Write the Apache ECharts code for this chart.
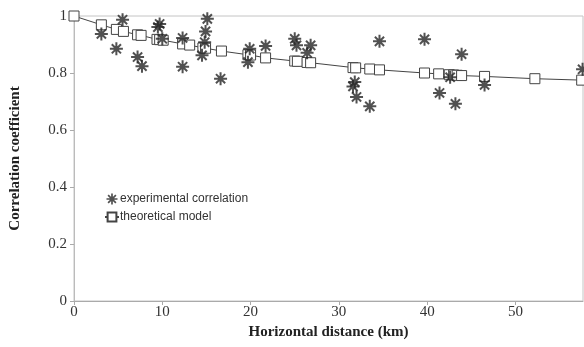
<!DOCTYPE html>
<html>
<head>
<meta charset="utf-8">
<script src="https://cdn.jsdelivr.net/npm/echarts@6/dist/echarts.min.js"></script>
<style>
html,body{margin:0;padding:0;background:#fff;}
#chart{width:584px;height:347px;}
</style>
</head>
<body>
<div id="chart"></div>
<script>
// experimental correlation (distance km, coefficient)
var expDist = [3.1, 4.8, 5.5, 7.2, 7.7, 9.5, 9.7, 10.0, 12.3, 12.3, 14.5, 14.8, 14.9, 15.1, 16.6, 19.7, 19.9, 21.7,
	25.0, 25.2, 26.4, 26.8, 31.6, 31.8, 32.0, 33.5, 34.6, 39.7, 41.4, 42.6, 43.2, 43.9, 46.5, 57.6];
var expCorr = [0.937, 0.885, 0.987, 0.856, 0.824, 0.961, 0.972, 0.920, 0.923, 0.822, 0.862, 0.908, 0.946, 0.990, 0.780, 0.838, 0.885, 0.895,
	0.920, 0.897, 0.871, 0.897, 0.753, 0.768, 0.716, 0.683, 0.911, 0.918, 0.730, 0.785, 0.692, 0.866, 0.758, 0.813];

// theoretical model
var modelDist = [0, 3.1, 4.8, 5.6, 7.2, 7.6, 9.4, 9.7, 10.1, 12.3, 13.1, 14.6, 14.9, 16.7, 19.7, 20.0, 21.7,
	25.0, 25.3, 26.4, 26.8, 31.6, 31.9, 33.5, 34.6, 39.7, 41.3, 42.5, 43.0, 43.4, 43.9, 46.5, 52.2, 57.5];
var modelCorr = [1.0, 0.969, 0.953, 0.946, 0.934, 0.932, 0.918, 0.917, 0.915, 0.902, 0.898, 0.888, 0.887, 0.877, 0.864, 0.863, 0.853,
	0.842, 0.841, 0.837, 0.836, 0.819, 0.818, 0.814, 0.811, 0.800, 0.797, 0.794, 0.793, 0.792, 0.791, 0.788, 0.780, 0.775];

var xTicks = [0, 10, 20, 30, 40, 50];
var yTicks = [0, 0.2, 0.4, 0.6, 0.8, 1];

// asterisk marker: 8 spokes + centre blob
function asteriskPath(){
	var c = 12, L = 11, w = 1.7, parts = [];
	for(var i = 0; i < 4; i++){
		var a = i * Math.PI / 4;
		var ca = Math.cos(a), sa = Math.sin(a);
		var pts = [[-L, -w], [L, -w], [L, w], [-L, w]];
		var s = "";
		for(var k = 0; k < pts.length; k++){
			var px = c + pts[k][0] * ca - pts[k][1] * sa;
			var py = c + pts[k][0] * sa + pts[k][1] * ca;
			s += (k == 0 ? "M" : "L") + px.toFixed(2) + " " + py.toFixed(2) + " ";
		}
		parts.push(s + "Z");
	}
	var r = 5, s2 = "";
	for(var j = 0; j < 8; j++){
		var b = j * Math.PI / 4 + Math.PI / 8;
		s2 += (j == 0 ? "M" : "L") + (c + r * Math.cos(b)).toFixed(2) + " " + (c + r * Math.sin(b)).toFixed(2) + " ";
	}
	parts.push(s2 + "Z");
	return "path://" + parts.join(" ");
}

var expData = [];
for(var i = 0; i < expDist.length; i++){
	expData.push([expDist[i], expCorr[i]]);
}
var modelData = [];
for(var i = 0; i < modelDist.length; i++){
	modelData.push([modelDist[i], modelCorr[i]]);
}

var serif = "'Liberation Serif', 'DejaVu Serif', serif";
var sans = "'Liberation Sans', Arial, sans-serif";

var theChart = echarts.init(document.getElementById("chart"), null, {renderer: "canvas"});
var option = {
	animation: false,
	backgroundColor: "#fff",
	grid: {
		left: 74, right: 1, top: 16, bottom: 46,
		show: true, borderColor: "#c4c4c4", borderWidth: 1
	},
	legend: {
		orient: "vertical",
		left: 99,
		top: 188,
		itemWidth: 14,
		itemHeight: 11,
		itemGap: 6,
		textStyle: {fontFamily: sans, fontSize: 12, color: "#333", padding: [0, 0, 0, -4]},
		data: ["experimental correlation", "theoretical model"]
	},
	xAxis: {
		type: "value",
		min: 0,
		max: 57.65,
		interval: 10,
		name: "Horizontal distance (km)",
		nameLocation: "middle",
		nameGap: 22,
		nameTextStyle: {fontFamily: serif, fontSize: 15, fontWeight: "bold", color: "#222"},
		axisLine: {show: true, lineStyle: {color: "#aaa", width: 1}},
		axisTick: {show: true, length: 4, lineStyle: {color: "#aaa"}},
		splitLine: {show: false},
		axisLabel: {
			showMaxLabel: false,
			margin: 4,
			fontFamily: serif, fontSize: 15, color: "#333",
			formatter: function(v){ return xTicks.indexOf(v) >= 0 ? String(v) : ""; }
		}
	},
	yAxis: {
		type: "value",
		min: 0,
		max: 1,
		interval: 0.2,
		name: "Correlation coefficient",
		nameLocation: "middle",
		nameGap: 51,
		nameTextStyle: {fontFamily: serif, fontSize: 15, fontWeight: "bold", color: "#222"},
		axisLine: {show: true, lineStyle: {color: "#bbb", width: 1}},
		axisTick: {show: true, length: 4, lineStyle: {color: "#aaa"}},
		splitLine: {show: false},
		axisLabel: {
			margin: 7,
			fontFamily: serif, fontSize: 15, color: "#333",
			formatter: function(v){
				for(var k = 0; k < yTicks.length; k++){
					if(Math.abs(yTicks[k] - v) < 1e-6) return String(yTicks[k]);
				}
				return "";
			}
		}
	},
	series: [
		{
			name: "theoretical model",
			type: "line",
			data: modelData,
			symbol: "rect",
			symbolSize: 10,
			showAllSymbol: true,
			z: 2,
			lineStyle: {color: "#444", width: 1},
			itemStyle: {color: "#fff", borderColor: "#444", borderWidth: 1}
		},
		{
			name: "experimental correlation",
			type: "scatter",
			data: expData,
			symbol: asteriskPath(),
			symbolSize: 13,
			z: 3,
			itemStyle: {color: "#262626"}
		}
	]
};
theChart.setOption(option);
</script>
</body>
</html>
